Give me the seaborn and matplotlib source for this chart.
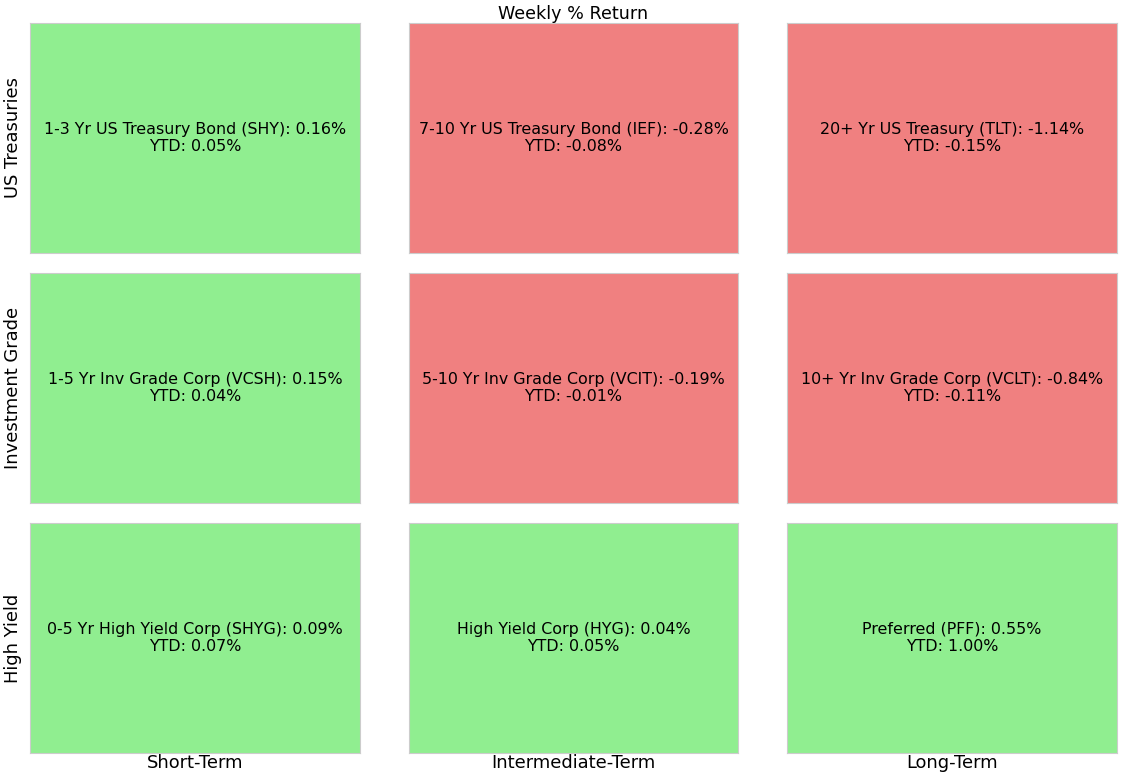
import numpy as np
import pandas as pd
import matplotlib
matplotlib.use("Agg")
import matplotlib.pyplot as plt
import seaborn as sns
from matplotlib.colors import ListedColormap

# ---- data ----
row_labels = ["US Treasuries", "Investment Grade", "High Yield"]
col_labels = ["Short-Term", "Intermediate-Term", "Long-Term"]
names = [
    ["1-3 Yr US Treasury Bond (SHY)", "7-10 Yr US Treasury Bond (IEF)", "20+ Yr US Treasury (TLT)"],
    ["1-5 Yr Inv Grade Corp (VCSH)", "5-10 Yr Inv Grade Corp (VCIT)", "10+ Yr Inv Grade Corp (VCLT)"],
    ["0-5 Yr High Yield Corp (SHYG)", "High Yield Corp (HYG)", "Preferred (PFF)"],
]
weekly = [
    [0.16, -0.28, -1.14],
    [0.15, -0.19, -0.84],
    [0.09, 0.04, 0.55],
]
ytd = [
    [0.05, -0.08, -0.15],
    [0.04, -0.01, -0.11],
    [0.07, 0.05, 1.00],
]
title = "Weekly % Return"

sns.set_style("white")
plt.rcParams['font.family'] = ['DejaVu Sans']
plt.rcParams['text.color'] = 'black'
plt.rcParams['axes.labelcolor'] = 'black'

fig, axes = plt.subplots(3, 3, figsize=(11.28, 7.84), dpi=100)
fig.subplots_adjust(left=30/1128, right=1117/1128, top=1-23/784, bottom=1-753/784,
                    wspace=49/330, hspace=20/230)

cmap = ListedColormap(["lightcoral", "lightgreen"])

for i in range(3):
    for j in range(3):
        ax = axes[i, j]
        w = weekly[i][j]
        val = np.array([[1.0 if w >= 0 else 0.0]])
        label = np.array([[f"{names[i][j]}: {w:.2f}%\nYTD: {ytd[i][j]:.2f}%"]])
        sns.heatmap(val, ax=ax, cmap=cmap, vmin=0, vmax=1, cbar=False,
                    annot=label, fmt="", annot_kws={"size": 11.4, "color": "black"})
        ax.set_xticks([])
        ax.set_yticks([])
        for sp in ax.spines.values():
            sp.set_visible(True)
            sp.set_color("#cccccc")
            sp.set_linewidth(0.8)
        if j == 0:
            ax.set_ylabel(row_labels[i], fontsize=12.9, labelpad=6, color="black")
        if i == 2:
            ax.set_xlabel(col_labels[j], fontsize=12.9, labelpad=1, color="black")

axes[0, 1].set_title(title, fontsize=12.6, pad=2, color="black")

fig.savefig("out.png", dpi=100)
